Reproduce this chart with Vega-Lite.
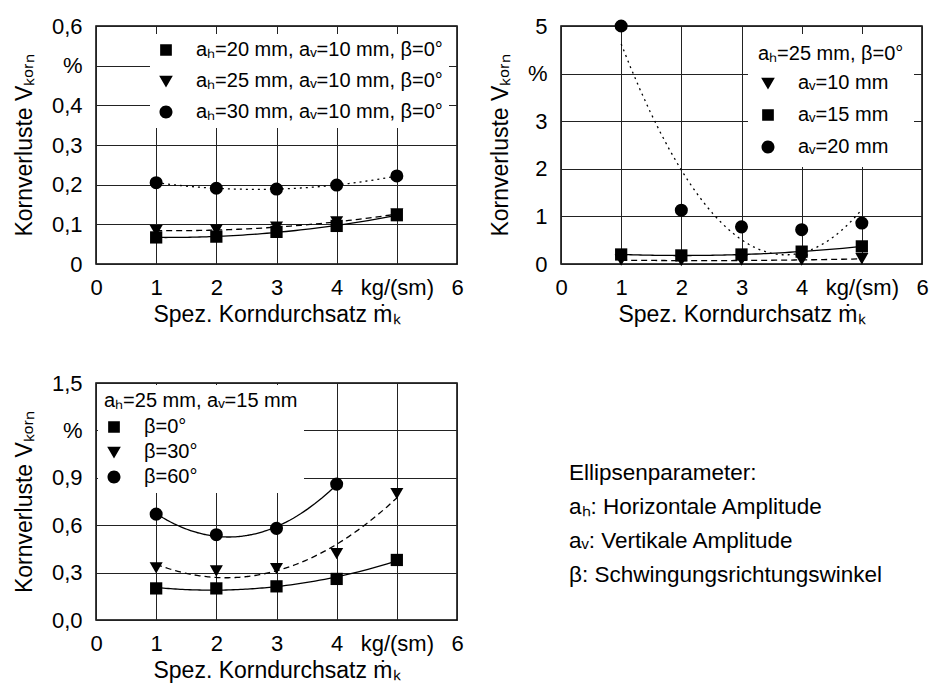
{
  "$schema": "https://vega.github.io/schema/vega-lite/v6.json",
  "background": "white",
  "padding": {"left": 12, "top": 14, "right": 5, "bottom": 5},
  "columns": 2,
  "spacing": {"row": 119, "column": 104},
  "bounds": "flush",
  "config": {
    "font": "Liberation Sans",
    "view": {"stroke": "black", "strokeWidth": 1.5},
    "axis": {
      "labelFont": "Liberation Sans", "labelFontSize": 22, "labelColor": "black",
      "titleFont": "Liberation Sans", "titleFontSize": 23, "titleFontWeight": "normal", "titleColor": "black",
      "domain": false, "ticks": false, "grid": true, "gridColor": "#222222", "gridWidth": 1, "gridOpacity": 1,
      "labelFlush": false, "labelOverlap": false
    },
    "axisX": {"labelPadding": 13, "titlePadding": 5},
    "axisY": {"labelPadding": 14, "titlePadding": 15},
    "legend": {
      "labelFont": "Liberation Sans", "labelFontSize": 20, "labelColor": "black",
      "titleFont": "Liberation Sans", "titleFontSize": 20, "titleFontWeight": "normal", "titleColor": "black",
      "fillColor": "white", "symbolSize": 169, "labelOffset": 20, "padding": 6, "labelLimit": 400, "titleLimit": 400,
      "symbolOpacity": 1, "symbolStrokeWidth": 1.3, "symbolStrokeColor": "black", "symbolFillColor": "black"
    }
  },
  "concat": [
    {
      "width": 361, "height": 238,
      "data": {"values": [
        {"s": "A1", "x": 1, "v": 0.067}, {"s": "A1", "x": 2, "v": 0.069}, {"s": "A1", "x": 3, "v": 0.081}, {"s": "A1", "x": 4, "v": 0.096}, {"s": "A1", "x": 5, "v": 0.123},
        {"s": "B1", "x": 1, "v": 0.084}, {"s": "B1", "x": 2, "v": 0.086}, {"s": "B1", "x": 3, "v": 0.093}, {"s": "B1", "x": 4, "v": 0.106}, {"s": "B1", "x": 5, "v": 0.126},
        {"s": "C1", "x": 1, "v": 0.205}, {"s": "C1", "x": 2, "v": 0.191}, {"s": "C1", "x": 3, "v": 0.189}, {"s": "C1", "x": 4, "v": 0.199}, {"s": "C1", "x": 5, "v": 0.222}
      ]},
      "encoding": {
        "x": {"field": "x", "type": "quantitative", "scale": {"domain": [0, 6], "nice": false},
              "axis": {"values": [0, 1, 2, 3, 4, 5, 6], "labelExpr": "datum.value == 5 ? 'kg/(sm)' : datum.label", "title": "Spez. Korndurchsatz ṁₖ"}},
        "y": {"field": "v", "type": "quantitative", "scale": {"domain": [0, 0.6], "nice": false},
              "axis": {"values": [0, 0.1, 0.2, 0.3, 0.4, 0.5, 0.6], "labelExpr": "datum.value == 0.5 ? '%' : (datum.value == 0 ? '0' : replace(format(datum.value, '.1f'), '.', ','))", "title": "Kornverluste Vₖₒᵣₙ"}}
      },
      "layer": [
        {"transform": [{"filter": {"field": "s", "oneOf": ["A1", "B2", "A3", "C3"]}}, {"regression": "v", "on": "x", "groupby": ["s"], "method": "poly", "order": 2}],
         "mark": {"type": "line", "color": "black", "strokeWidth": 1.3}, "encoding": {"detail": {"field": "s"}}},
        {"transform": [{"filter": {"field": "s", "oneOf": ["B1", "A2", "B3"]}}, {"regression": "v", "on": "x", "groupby": ["s"], "method": "poly", "order": 2}],
         "mark": {"type": "line", "color": "black", "strokeWidth": 1.3, "strokeDash": [6, 4]}, "encoding": {"detail": {"field": "s"}}},
        {"transform": [{"filter": {"field": "s", "oneOf": ["C1", "C2"]}}, {"regression": "v", "on": "x", "groupby": ["s"], "method": "poly", "order": 2}],
         "mark": {"type": "line", "color": "black", "strokeWidth": 1.3, "strokeDash": [2, 4]}, "encoding": {"detail": {"field": "s"}}},
        {"transform": [{"filter": {"field": "s", "oneOf": ["A1", "B2", "A3"]}}], "mark": {"type": "point", "shape": "square", "filled": true, "color": "black", "opacity": 1, "size": 150}},
        {"transform": [{"filter": {"field": "s", "oneOf": ["B1", "A2", "B3"]}}], "mark": {"type": "point", "shape": "triangle-down", "filled": true, "color": "black", "opacity": 1, "size": 170}},
        {"transform": [{"filter": {"field": "s", "oneOf": ["C1", "C2", "C3"]}}], "mark": {"type": "point", "shape": "circle", "filled": true, "color": "black", "opacity": 1, "size": 170}},
        {
          "mark": {"type": "point", "filled": true, "fill": "black", "stroke": "black", "strokeWidth": 1.3, "opacity": 0, "size": 169},
          "encoding": {
            "shape": {"field": "s", "type": "nominal",
              "scale": {"domain": ["A1", "B1", "C1", "A2", "B2", "C2", "A3", "B3", "C3"], "range": ["M-3.5,0H3.5M-0.9,-0.9H0.9V0.9H-0.9Z", "M-3.5,0H3.5M-1.05,-0.8H1.05L0,1Z", "M-3.5,0H3.5M-1,0A1,1,0,1,0,1,0A1,1,0,1,0,-1,0Z", "M-3.5,0H3.5M-1.05,-0.8H1.05L0,1Z", "M-3.5,0H3.5M-0.9,-0.9H0.9V0.9H-0.9Z", "M-3.5,0H3.5M-1,0A1,1,0,1,0,1,0A1,1,0,1,0,-1,0Z", "M-3.5,0H3.5M-0.9,-0.9H0.9V0.9H-0.9Z", "M-3.5,0H3.5M-1.05,-0.8H1.05L0,1Z", "M-3.5,0H3.5M-1,0A1,1,0,1,0,1,0A1,1,0,1,0,-1,0Z"]},
              "legend": {"title": null, "orient": "top-right", "offset": 8, "rowPadding": 11, "values": ["A1", "B1", "C1"],
                "labelExpr": "datum.value == 'A1' ? 'aₕ=20 mm, aᵥ=10 mm, β=0°' : datum.value == 'B1' ? 'aₕ=25 mm, aᵥ=10 mm, β=0°' : 'aₕ=30 mm, aᵥ=10 mm, β=0°'"}},
            "strokeDash": {"field": "s", "type": "nominal",
              "scale": {"domain": ["A1", "B1", "C1", "A2", "B2", "C2", "A3", "B3", "C3"], "range": [[1, 0], [5, 3], [1.5, 3.5], [5, 3], [1, 0], [1.5, 3.5], [1, 0], [5, 3], [1.5, 3.5]]},
              "legend": {"title": null, "orient": "top-right", "offset": 8, "rowPadding": 11, "values": ["A1", "B1", "C1"],
                "labelExpr": "datum.value == 'A1' ? 'aₕ=20 mm, aᵥ=10 mm, β=0°' : datum.value == 'B1' ? 'aₕ=25 mm, aᵥ=10 mm, β=0°' : 'aₕ=30 mm, aᵥ=10 mm, β=0°'"}}
          }
        }
      ]
    },
    {
      "width": 361, "height": 238,
      "data": {"values": [
        {"s": "A2", "x": 1, "v": 0.08}, {"s": "A2", "x": 2, "v": 0.07}, {"s": "A2", "x": 3, "v": 0.08}, {"s": "A2", "x": 4, "v": 0.08}, {"s": "A2", "x": 5, "v": 0.11},
        {"s": "B2", "x": 1, "v": 0.2}, {"s": "B2", "x": 2, "v": 0.18}, {"s": "B2", "x": 3, "v": 0.2}, {"s": "B2", "x": 4, "v": 0.26}, {"s": "B2", "x": 5, "v": 0.37},
        {"s": "C2", "x": 1, "v": 5.0}, {"s": "C2", "x": 2, "v": 1.13}, {"s": "C2", "x": 3, "v": 0.78}, {"s": "C2", "x": 4, "v": 0.72}, {"s": "C2", "x": 5, "v": 0.86}
      ]},
      "encoding": {
        "x": {"field": "x", "type": "quantitative", "scale": {"domain": [0, 6], "nice": false},
              "axis": {"values": [0, 1, 2, 3, 4, 5, 6], "labelExpr": "datum.value == 5 ? 'kg/(sm)' : datum.label", "title": "Spez. Korndurchsatz ṁₖ"}},
        "y": {"field": "v", "type": "quantitative", "scale": {"domain": [0, 5], "nice": false},
              "axis": {"values": [0, 1, 2, 3, 4, 5], "labelExpr": "datum.value == 4 ? '%' : datum.label", "title": "Kornverluste Vₖₒᵣₙ"}}
      },
      "layer": [
        {"transform": [{"filter": {"field": "s", "oneOf": ["A1", "B2", "A3", "C3"]}}, {"regression": "v", "on": "x", "groupby": ["s"], "method": "poly", "order": 2}],
         "mark": {"type": "line", "color": "black", "strokeWidth": 1.3}, "encoding": {"detail": {"field": "s"}}},
        {"transform": [{"filter": {"field": "s", "oneOf": ["B1", "A2", "B3"]}}, {"regression": "v", "on": "x", "groupby": ["s"], "method": "poly", "order": 2}],
         "mark": {"type": "line", "color": "black", "strokeWidth": 1.3, "strokeDash": [6, 4]}, "encoding": {"detail": {"field": "s"}}},
        {"transform": [{"filter": {"field": "s", "oneOf": ["C1", "C2"]}}, {"regression": "v", "on": "x", "groupby": ["s"], "method": "poly", "order": 2}],
         "mark": {"type": "line", "color": "black", "strokeWidth": 1.3, "strokeDash": [2, 4]}, "encoding": {"detail": {"field": "s"}}},
        {"transform": [{"filter": {"field": "s", "oneOf": ["A1", "B2", "A3"]}}], "mark": {"type": "point", "shape": "square", "filled": true, "color": "black", "opacity": 1, "size": 150}},
        {"transform": [{"filter": {"field": "s", "oneOf": ["B1", "A2", "B3"]}}], "mark": {"type": "point", "shape": "triangle-down", "filled": true, "color": "black", "opacity": 1, "size": 170}},
        {"transform": [{"filter": {"field": "s", "oneOf": ["C1", "C2", "C3"]}}], "mark": {"type": "point", "shape": "circle", "filled": true, "color": "black", "opacity": 1, "size": 170}},
        {
          "mark": {"type": "point", "filled": true, "fill": "black", "stroke": "black", "strokeWidth": 1.3, "opacity": 0, "size": 169},
          "encoding": {
            "shape": {"field": "s", "type": "nominal",
              "scale": {"domain": ["A1", "B1", "C1", "A2", "B2", "C2", "A3", "B3", "C3"], "range": ["M-3.5,0H3.5M-0.9,-0.9H0.9V0.9H-0.9Z", "M-3.5,0H3.5M-1.05,-0.8H1.05L0,1Z", "M-3.5,0H3.5M-1,0A1,1,0,1,0,1,0A1,1,0,1,0,-1,0Z", "M-3.5,0H3.5M-1.05,-0.8H1.05L0,1Z", "M-3.5,0H3.5M-0.9,-0.9H0.9V0.9H-0.9Z", "M-3.5,0H3.5M-1,0A1,1,0,1,0,1,0A1,1,0,1,0,-1,0Z", "M-3.5,0H3.5M-0.9,-0.9H0.9V0.9H-0.9Z", "M-3.5,0H3.5M-1.05,-0.8H1.05L0,1Z", "M-3.5,0H3.5M-1,0A1,1,0,1,0,1,0A1,1,0,1,0,-1,0Z"]},
              "legend": {"title": "aₕ=25 mm, β=0°", "orient": "top-right", "offset": 8, "padding": 10, "rowPadding": 12, "titlePadding": 9, "values": ["A2", "B2", "C2"],
                "labelExpr": "datum.value == 'A2' ? 'aᵥ=10 mm' : datum.value == 'B2' ? 'aᵥ=15 mm' : 'aᵥ=20 mm'"}},
            "strokeDash": {"field": "s", "type": "nominal",
              "scale": {"domain": ["A1", "B1", "C1", "A2", "B2", "C2", "A3", "B3", "C3"], "range": [[1, 0], [5, 3], [1.5, 3.5], [5, 3], [1, 0], [1.5, 3.5], [1, 0], [5, 3], [1.5, 3.5]]},
              "legend": {"title": "aₕ=25 mm, β=0°", "orient": "top-right", "offset": 8, "padding": 10, "rowPadding": 12, "titlePadding": 9, "values": ["A2", "B2", "C2"],
                "labelExpr": "datum.value == 'A2' ? 'aᵥ=10 mm' : datum.value == 'B2' ? 'aᵥ=15 mm' : 'aᵥ=20 mm'"}}
          }
        }
      ]
    },
    {
      "width": 361, "height": 237,
      "data": {"values": [
        {"s": "A3", "x": 1, "v": 0.2}, {"s": "A3", "x": 2, "v": 0.2}, {"s": "A3", "x": 3, "v": 0.213}, {"s": "A3", "x": 4, "v": 0.26}, {"s": "A3", "x": 5, "v": 0.38},
        {"s": "B3", "x": 1, "v": 0.33}, {"s": "B3", "x": 2, "v": 0.31}, {"s": "B3", "x": 3, "v": 0.325}, {"s": "B3", "x": 4, "v": 0.42}, {"s": "B3", "x": 5, "v": 0.8},
        {"s": "C3", "x": 1, "v": 0.67}, {"s": "C3", "x": 2, "v": 0.54}, {"s": "C3", "x": 3, "v": 0.58}, {"s": "C3", "x": 4, "v": 0.86}
      ]},
      "encoding": {
        "x": {"field": "x", "type": "quantitative", "scale": {"domain": [0, 6], "nice": false},
              "axis": {"values": [0, 1, 2, 3, 4, 5, 6], "labelExpr": "datum.value == 5 ? 'kg/(sm)' : datum.label", "title": "Spez. Korndurchsatz ṁₖ"}},
        "y": {"field": "v", "type": "quantitative", "scale": {"domain": [0, 1.5], "nice": false},
              "axis": {"values": [0, 0.3, 0.6, 0.9, 1.2, 1.5], "labelExpr": "datum.value == 1.2 ? '%' : replace(format(datum.value, '.1f'), '.', ',')", "title": "Kornverluste Vₖₒᵣₙ"}}
      },
      "layer": [
        {"transform": [{"filter": {"field": "s", "oneOf": ["A1", "B2", "A3", "C3"]}}, {"regression": "v", "on": "x", "groupby": ["s"], "method": "poly", "order": 2}],
         "mark": {"type": "line", "color": "black", "strokeWidth": 1.3}, "encoding": {"detail": {"field": "s"}}},
        {"transform": [{"filter": {"field": "s", "oneOf": ["B1", "A2", "B3"]}}, {"regression": "v", "on": "x", "groupby": ["s"], "method": "poly", "order": 2}],
         "mark": {"type": "line", "color": "black", "strokeWidth": 1.3, "strokeDash": [6, 4]}, "encoding": {"detail": {"field": "s"}}},
        {"transform": [{"filter": {"field": "s", "oneOf": ["A1", "B2", "A3"]}}], "mark": {"type": "point", "shape": "square", "filled": true, "color": "black", "opacity": 1, "size": 150}},
        {"transform": [{"filter": {"field": "s", "oneOf": ["B1", "A2", "B3"]}}], "mark": {"type": "point", "shape": "triangle-down", "filled": true, "color": "black", "opacity": 1, "size": 170}},
        {"transform": [{"filter": {"field": "s", "oneOf": ["C1", "C2", "C3"]}}], "mark": {"type": "point", "shape": "circle", "filled": true, "color": "black", "opacity": 1, "size": 170}},
        {
          "mark": {"type": "point", "filled": true, "fill": "black", "stroke": "black", "strokeWidth": 1.3, "opacity": 0, "size": 169},
          "encoding": {
            "shape": {"field": "s", "type": "nominal",
              "scale": {"domain": ["A1", "B1", "C1", "A2", "B2", "C2", "A3", "B3", "C3"], "range": ["M-3.5,0H3.5M-0.9,-0.9H0.9V0.9H-0.9Z", "M-3.5,0H3.5M-1.05,-0.8H1.05L0,1Z", "M-3.5,0H3.5M-1,0A1,1,0,1,0,1,0A1,1,0,1,0,-1,0Z", "M-3.5,0H3.5M-1.05,-0.8H1.05L0,1Z", "M-3.5,0H3.5M-0.9,-0.9H0.9V0.9H-0.9Z", "M-3.5,0H3.5M-1,0A1,1,0,1,0,1,0A1,1,0,1,0,-1,0Z", "M-3.5,0H3.5M-0.9,-0.9H0.9V0.9H-0.9Z", "M-3.5,0H3.5M-1.05,-0.8H1.05L0,1Z", "M-3.5,0H3.5M-1,0A1,1,0,1,0,1,0A1,1,0,1,0,-1,0Z"]},
              "legend": {"title": "aₕ=25 mm, aᵥ=15 mm", "orient": "top-left", "offset": 2, "rowPadding": 5, "titlePadding": 6, "values": ["A3", "B3", "C3"],
                "labelExpr": "datum.value == 'A3' ? 'β=0°' : datum.value == 'B3' ? 'β=30°' : 'β=60°'"}},
            "strokeDash": {"field": "s", "type": "nominal",
              "scale": {"domain": ["A1", "B1", "C1", "A2", "B2", "C2", "A3", "B3", "C3"], "range": [[1, 0], [5, 3], [1.5, 3.5], [5, 3], [1, 0], [1.5, 3.5], [1, 0], [5, 3], [1.5, 3.5]]},
              "legend": {"title": "aₕ=25 mm, aᵥ=15 mm", "orient": "top-left", "offset": 2, "rowPadding": 5, "titlePadding": 6, "values": ["A3", "B3", "C3"],
                "labelExpr": "datum.value == 'A3' ? 'β=0°' : datum.value == 'B3' ? 'β=30°' : 'β=60°'"}}
          }
        }
      ]
    },
    {
      "width": 361, "height": 237,
      "view": {"stroke": null},
      "data": {"values": [
        {"line": 1, "text": "Ellipsenparameter:"},
        {"line": 2, "text": "aₕ: Horizontale Amplitude"},
        {"line": 3, "text": "aᵥ: Vertikale Amplitude"},
        {"line": 4, "text": "β: Schwingungsrichtungswinkel"}
      ]},
      "mark": {"type": "text", "align": "left", "baseline": "middle", "fontSize": 22.5, "font": "Liberation Sans", "color": "black", "dx": 8},
      "encoding": {
        "x": {"datum": 0, "type": "quantitative", "scale": {"domain": [0, 1], "nice": false}, "axis": null},
        "y": {"field": "line", "type": "quantitative", "scale": {"domain": [-1.65, 5.32], "nice": false, "zero": false, "reverse": true}, "axis": null},
        "text": {"field": "text", "type": "nominal"}
      }
    }
  ]
}
